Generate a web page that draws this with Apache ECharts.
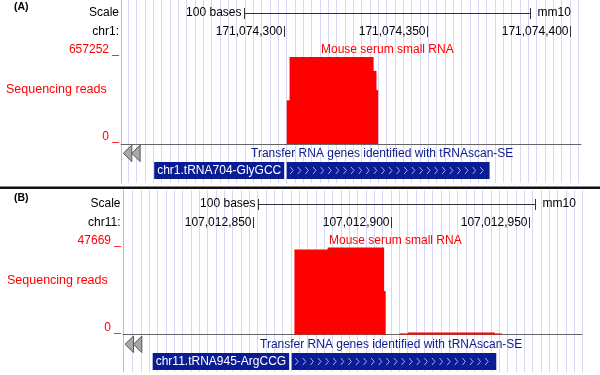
<!DOCTYPE html>
<html><head><meta charset="utf-8">
<script src="https://cdn.jsdelivr.net/npm/echarts@6/dist/echarts.min.js"></script>
<style>html,body{margin:0;padding:0;background:#fff}#c{width:600px;height:375px}</style>
</head><body><div id="c"></div>
<script>
// ---------- data ----------
const panelLetters = ['(A)', '(B)'];
const chroms = ['chr1', 'chr11'];
const assembly = 'mm10';
const yTitle = 'Sequencing reads';
const readsTrack = 'Mouse serum small RNA';
const geneTrack = 'Transfer RNA genes identified with tRNAscan-SE';

// Panel A
const aRange = [171074243, 171074404];
const aRuler = [171074300, 171074350, 171074400];
const aScaleBar = [171074286, 171074386];
const aMax = 657252;
// [start, end, reads]
const aCoverage = [
  [171074301, 171074302, 330000],
  [171074302, 171074331, 657252],
  [171074331, 171074332, 552000],
  [171074332, 171074333, 407000]
];
const aGene = [171074301, 171074372];
const aGeneName = 'chr1.tRNA704-GlyGCC';

// Panel B
const bRange = [107012803, 107012969];
const bRuler = [107012850, 107012900, 107012950];
const bScaleBar = [107012852, 107012952];
const bMax = 47669;
const bCoverage = [
  [107012865, 107012877, 46570],
  [107012877, 107012897, 47669],
  [107012897, 107012898, 23800],
  [107012903, 107012906, 600],
  [107012906, 107012937, 1100],
  [107012937, 107012940, 600]
];
const bGene = [107012864, 107012938];
const bGeneName = 'chr11.tRNA945-ArgCCG';

// ---------- layout / style ----------
const FONT = '"Liberation Sans", Arial, Helvetica, sans-serif';
const RED = '#ff0000';
const NAVY = '#0a1c94';
const GUIDE = '#d8d8f6';
const PINK = '#f4a8a8';

const layouts = [
  {dy: 0, bgLeft: 128.3, bgTop: 0, bgH: 183, pinkX: 121, dataLeft: 121, dataW: 460, dataTop: 57, dataH: 87,
   labelRight: 119, titleX: 321, geneTitleX: 251, seqX: 6, arrowX: 123.3, letterX: 14},
  {dy: 191, bgLeft: 132.5, bgTop: 190, bgH: 182, pinkX: 123, dataLeft: 123, dataW: 459, dataTop: 247.5, dataH: 87,
   labelRight: 120.5, titleX: 329, geneTitleX: 260, seqX: 7, arrowX: 125, letterX: 14}
];
const panelsData = [
  {range: aRange, ruler: aRuler, scale: aScaleBar, max: aMax, cov: aCoverage, gene: aGene, geneName: aGeneName, chrom: chroms[0], letter: panelLetters[0]},
  {range: bRange, ruler: bRuler, scale: bScaleBar, max: bMax, cov: bCoverage, gene: bGene, geneName: bGeneName, chrom: chroms[1], letter: panelLetters[1]}
];

function fmt(v) { return String(v).replace(/\B(?=(\d{3})+(?!\d))/g, ','); }

const option = {
  animation: false,
  backgroundColor: '#fff',
  grid: [], xAxis: [], yAxis: [], series: [], graphic: []
};

panelsData.forEach((d, i) => {
  const L = layouts[i];
  const dy = L.dy;
  const gBg = option.grid.length;
  option.grid.push({left: L.bgLeft, top: L.bgTop, width: 54 * 8.333, height: L.bgH});
  const gData = option.grid.length;
  option.grid.push({left: L.dataLeft, top: L.dataTop, width: L.dataW, height: L.dataH});

  // background guide lines grid
  option.xAxis.push({type: 'value', gridIndex: gBg, min: 1, max: 55, interval: 1,
    axisLine: {show: false}, axisTick: {show: false}, axisLabel: {show: false},
    splitLine: {show: true, lineStyle: {color: GUIDE, width: 1}}});
  option.yAxis.push({type: 'value', gridIndex: gBg, min: 0, max: 1, offset: L.bgLeft - L.pinkX,
    axisLine: {show: true, lineStyle: {color: PINK, width: 1}}, axisTick: {show: false},
    axisLabel: {show: false}, splitLine: {show: false}});

  // data grid
  const xi = option.xAxis.length;
  option.xAxis.push({type: 'value', gridIndex: gData, min: d.range[0], max: d.range[1],
    axisLine: {show: true, onZero: false, lineStyle: {color: '#666', width: 1}}, axisTick: {show: false},
    axisLabel: {show: false}, splitLine: {show: false}});
  const yi = option.yAxis.length;
  option.yAxis.push({type: 'value', gridIndex: gData, min: 0, max: d.max, interval: d.max,
    axisLine: {show: false}, axisTick: {show: false}, splitLine: {show: false},
    axisLabel: {show: true, color: RED, fontSize: 12, fontFamily: FONT, margin: 2,
      verticalAlign: 'bottom', lineHeight: 14, formatter: v => v + ' _'}});

  // coverage
  option.series.push({
    type: 'custom', xAxisIndex: xi, yAxisIndex: yi, data: d.cov, encode: {x: [0, 1], y: 2}, z: 3,
    renderItem: (params, api) => {
      const p0 = api.coord([api.value(0), api.value(2)]);
      const p1 = api.coord([api.value(1), 0]);
      const next = d.cov[params.dataIndex + 1];
      const overlap = (next && next[0] === d.cov[params.dataIndex][1]) ? 1.2 : 0;
      return {type: 'rect', shape: {x: p0[0], y: p0[1], width: p1[0] - p0[0] + overlap, height: p1[1] - p0[1]},
        style: {fill: RED}};
    }
  });

  // ruler ticks + position labels
  option.series.push({
    type: 'custom', xAxisIndex: xi, yAxisIndex: yi, data: d.ruler.map(v => [v, 0]), encode: {x: 0, y: 1},
    renderItem: (params, api) => {
      const x = Math.round(api.coord([api.value(0), 0])[0]) + 0.5;
      const y = 31.5 + dy;
      return {type: 'group', children: [
        {type: 'line', shape: {x1: x, y1: y - 5.5, x2: x, y2: y + 5.5}, style: {stroke: '#333', lineWidth: 1}},
        {type: 'text', x: x - 2, y: y, style: {text: fmt(api.value(0)), align: 'right', verticalAlign: 'middle',
          fill: '#000', font: '12px ' + FONT}}
      ]};
    }
  });

  // scale bar
  option.series.push({
    type: 'custom', xAxisIndex: xi, yAxisIndex: yi, data: [[d.scale[0], d.scale[1]]], encode: {x: [0, 1]},
    renderItem: (params, api) => {
      const s = api.value(0), e = api.value(1);
      const x1 = Math.round(api.coord([s, 0])[0]) + 0.5;
      const x2 = Math.round(api.coord([e, 0])[0]) + 0.5;
      const y = Math.round(12.5 + dy) + 0.5;
      return {type: 'group', children: [
        {type: 'line', shape: {x1: x1, y1: y, x2: x2, y2: y}, style: {stroke: '#333', lineWidth: 1}},
        {type: 'line', shape: {x1: x1, y1: y - 5.5, x2: x1, y2: y + 5.5}, style: {stroke: '#333', lineWidth: 1}},
        {type: 'line', shape: {x1: x2, y1: y - 5.5, x2: x2, y2: y + 5.5}, style: {stroke: '#333', lineWidth: 1}},
        {type: 'text', x: x1 - 3, y: 12.5 + dy, style: {text: (e - s) + ' bases', align: 'right', verticalAlign: 'middle',
          fill: '#000', font: '12px ' + FONT}},
        {type: 'text', x: x2 + 7, y: 12.5 + dy, style: {text: assembly, align: 'left', verticalAlign: 'middle',
          fill: '#000', font: '12px ' + FONT}}
      ]};
    }
  });

  // gene
  option.series.push({
    type: 'custom', xAxisIndex: xi, yAxisIndex: yi, data: [[d.gene[0], d.gene[1]]], encode: {x: [0, 1]},
    renderItem: (params, api) => {
      const x1 = api.coord([api.value(0), 0])[0];
      const x2 = api.coord([api.value(1), 0])[0];
      const top = 162 + dy, h = 17;
      const kids = [{type: 'rect', shape: {x: x1, y: top, width: x2 - x1, height: h}, style: {fill: NAVY}}];
      for (let x = x1 + 5; x < x2 - 3; x += 7.6) {
        kids.push({type: 'polyline', shape: {points: [[x - 1.5, top + 5], [x + 1.5, top + 8.5], [x - 1.5, top + 12]]},
          style: {stroke: '#a2acf0', lineWidth: 1, fill: null}});
      }
      kids.push({type: 'text', x: x1 - 2.5, y: top + h / 2, style: {text: d.geneName, align: 'right', verticalAlign: 'middle',
        fill: '#fff', font: '12px ' + FONT, backgroundColor: NAVY, padding: [2, 3, 2, 3], lineHeight: 13}});
      return {type: 'group', children: kids};
    }
  });

  // texts & decorations
  const txt = (x, y, text, opts) => ({type: 'text', x: x, y: y, silent: true, z: 10,
    style: Object.assign({text: text, fill: '#000', font: '12px ' + FONT, verticalAlign: 'middle'}, opts || {})});
  option.graphic.push(txt(L.letterX, 7.5 + dy, d.letter, {font: 'bold 10.5px ' + FONT}));
  option.graphic.push(txt(L.labelRight, 12.5 + dy, 'Scale', {align: 'right'}));
  option.graphic.push(txt(L.labelRight, 31.5 + dy, d.chrom + ':', {align: 'right'}));
  option.graphic.push(txt(L.titleX, 49.5 + dy, readsTrack, {fill: RED}));
  option.graphic.push(txt(L.seqX, 90 + dy, yTitle, {fill: RED, font: '12.5px ' + FONT}));
  option.graphic.push(txt(L.geneTitleX, 154 + dy, geneTrack, {fill: '#0c1a8c'}));
  const ax = L.arrowX, ay = 145 + dy;
  option.graphic.push({type: 'polygon', z: 10, shape: {points: [[ax, ay + 8.3], [ax + 8.5, ay], [ax + 8.5, ay + 16.6]]},
    style: {fill: '#a8a8a8', stroke: '#555', lineWidth: 1}});
  option.graphic.push({type: 'polygon', z: 10, shape: {points: [[ax + 8.5, ay + 8.3], [ax + 16.8, ay], [ax + 16.8, ay + 16.6]]},
    style: {fill: '#a8a8a8', stroke: '#555', lineWidth: 1}});
});

option.graphic.push({type: 'rect', z: 10, shape: {x: 0, y: 186.5, width: 600, height: 2.5}, style: {fill: '#111'}});

const chart = echarts.init(document.getElementById('c'), null, {renderer: 'canvas'});
chart.setOption(option);
</script>
</body></html>
